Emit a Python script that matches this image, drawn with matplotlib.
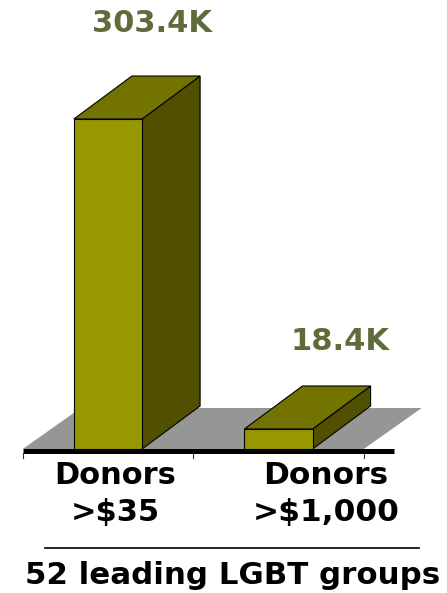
import matplotlib
matplotlib.use("Agg")
import matplotlib.pyplot as plt
from matplotlib.patches import Polygon

# ---- data ----
categories = [["Donors", ">$35"], ["Donors", ">$1,000"]]
values = [303.4, 18.4]          # thousands
value_labels = ["303.4K", "18.4K"]
group_title = "52 leading LGBT groups"

# ---- styling / geometry ----
W, H, DPI = 447, 593, 100
front_c, top_c, side_c = "#979700", "#737300", "#505000"
floor_c = "#969696"
val_c = "#5f6b3b"
font = "DejaVu Sans"

px_x = 170.5          # pixels per category unit
x0_px = 108           # pixel of category 0 centre
px_v = 330 / 303.4    # pixels per value unit
base_px = 449         # pixel row of value 0

bar_w = 0.40
dx = 58 / px_x
dy = 43 / px_v

fig = plt.figure(figsize=(W / DPI, H / DPI), dpi=DPI)
ax = fig.add_axes([0, 0, 1, 1])
ax.set_xlim((0 - x0_px) / px_x, (W - x0_px) / px_x)
ax.set_ylim((base_px - H) / px_v, base_px / px_v)
ax.axis("off")

# floor
fl, fr = -0.5, len(values) - 0.5
floor_dy = 41 / px_v
ax.add_patch(Polygon([(fl, 0), (fr, 0), (fr + dx, floor_dy), (fl + dx, floor_dy)],
                     closed=True, fc=floor_c, ec="none", zorder=1))

# bars
for i, v in enumerate(values):
    l, r = i - bar_w / 2, i + bar_w / 2
    kw = dict(closed=True, ec="black", lw=0.8, zorder=3 + i)
    ax.add_patch(Polygon([(r, 0), (r + dx, dy), (r + dx, v + dy), (r, v)], fc=side_c, **kw))
    ax.add_patch(Polygon([(l, v), (r, v), (r + dx, v + dy), (l + dx, v + dy)], fc=top_c, **kw))
    ax.add_patch(Polygon([(l, 0), (r, 0), (r, v), (l, v)], fc=front_c, **kw))

# axis line and ticks
ax.plot([-0.5, 1.68], [-2 / px_v, -2 / px_v], color="black", lw=3.6,
        solid_capstyle="butt", zorder=10)
for t in [-0.5, 0.5, 1.5]:
    ax.plot([t, t], [-4 / px_v, -9 / px_v], color="#333333", lw=0.8, zorder=10)

# value labels
val_dx = [0.26, 0.36]
val_gap = [52, 44]
for i, (v, s) in enumerate(zip(values, value_labels)):
    ax.text(i + val_dx[i], v + dy + val_gap[i] / px_v, s, ha="center", va="center",
            fontsize=22, fontweight="bold", color=val_c, family=font)

# category labels
cat_dx = [0.04, 0.277]
cat_fs = [22, 22.5]
for i, lines in enumerate(categories):
    for j, line in enumerate(lines):
        ypix = 476 + 36 * j
        ax.text(i + cat_dx[i], (base_px - ypix) / px_v, line, ha="center", va="center",
                fontsize=cat_fs[i], fontweight="bold", color="black", family=font)

# separator and group title
fig.add_artist(plt.Line2D([45 / W, 419 / W], [1 - 548 / H, 1 - 548 / H],
                          color="black", lw=1.2))
fig.text(232.5 / W, 1 - 576 / H, group_title, ha="center", va="center",
         fontsize=22.2, fontweight="bold", color="black", family=font)

fig.savefig("out.png", dpi=DPI)
